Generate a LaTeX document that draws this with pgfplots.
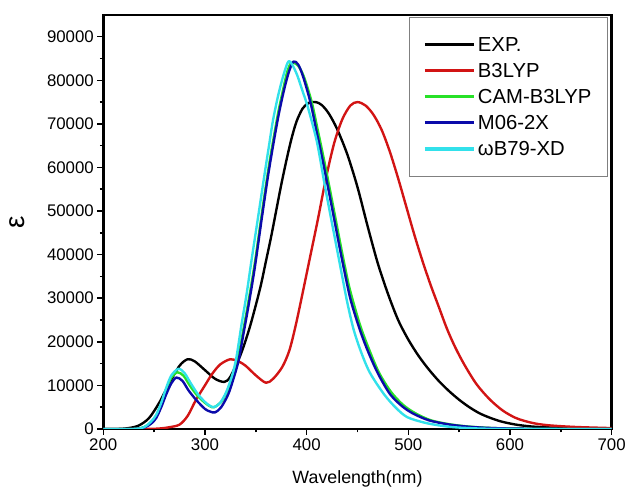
\documentclass[border=0pt]{standalone}
\usepackage{fontspec}
\setmainfont{Liberation Sans}
\usepackage{pgfplots}
\pgfplotsset{compat=1.18}
\definecolor{cred}{RGB}{210,20,20}
\definecolor{cgreen}{RGB}{40,225,40}
\definecolor{cblue}{RGB}{10,10,170}
\definecolor{ccyan}{RGB}{50,225,235}
\begin{document}
\begin{tikzpicture}
\begin{axis}[
  name=ax,
  scale only axis,
  width=512bp, height=417bp,
  xmin=200, xmax=700, ymin=0, ymax=95000,
  xtick={200,300,...,700},
  ytick={0,10000,...,90000},
  minor x tick num=1, minor y tick num=1,
  scaled ticks=false,
  /pgf/number format/assume math mode=true,
  /pgf/number format/set thousands separator={},
  tick label style={font=\fontsize{17}{19}\selectfont},
  xtick pos=bottom, ytick pos=left,
  tick align=outside,
  major tick length=6bp, minor tick length=3.5bp,
  every tick/.style={black, line width=1.5bp},
  axis line style={line width=2.5bp},
  xlabel={Wavelength(nm)},
  ylabel={ε},
  xlabel style={font=\fontsize{18}{20}\selectfont, yshift=-14bp},
  ylabel style={font=\fontsize{28}{30}\selectfont, yshift=16bp},
  legend style={at={(1,1)}, anchor=north east, xshift=-4bp, yshift=-2bp,
    draw=gray, line width=0.8bp, fill=white,
    font=\fontsize{20.5}{23}\selectfont,
    inner xsep=14bp, inner ysep=18bp, row sep=6.5bp},
  legend cell align=left,
  legend image code/.code={\draw[#1, line width=3.2bp] (7bp,0bp) -- (57bp,0bp);},
  every axis plot/.append style={line width=2.4bp, smooth, line join=round},
]
% EXP
\addplot[black] coordinates {
(200,0)(215,0)(225,200)(235,800)(245,2500)(255,6000)(265,10500)(275,14500)(283,16000)(290,15500)(300,13500)(310,11500)(319,10800)(325,12000)(335,17000)(343,22500)(349,27500)(355,33000)(360,38500)(365,44000)(370,50000)(375,56000)(380,61500)(385,66500)(390,70500)(396,73500)(402,74800)(409,75000)(415,74300)(422,72300)(430,68800)(440,63000)(450,55500)(460,46500)(470,38000)(480,31000)(490,25000)(500,20500)(510,16800)(520,13700)(530,11000)(540,8700)(550,6700)(560,5000)(570,3600)(580,2600)(590,1800)(600,1250)(610,850)(625,500)(650,250)(675,100)(700,50)};
\addlegendentry{EXP.}
% B3LYP
\addplot[cred] coordinates {
(200,0)(240,0)(255,100)(265,400)(275,1000)(283,3000)(291,6600)(300,10000)(307,12600)(315,14800)(325,16000)(333,15500)(340,14500)(350,12300)(360,10600)(367,11500)(376,14200)(383,18000)(389,23500)(395,30000)(403,39000)(411,48000)(419,57500)(427,65500)(435,71000)(443,74200)(450,75000)(458,74200)(466,72000)(474,68500)(482,63500)(490,57500)(498,51000)(506,44500)(514,38500)(522,33000)(530,28000)(538,23000)(546,18800)(555,14800)(567,10300)(580,6800)(593,4200)(605,2600)(615,1800)(626,1200)(640,800)(665,450)(700,200)};
\addlegendentry{B3LYP}
% CAM-B3LYP
\addplot[cgreen] coordinates {
(200,0)(230,0)(240,400)(247,1500)(252,3000)(257,5800)(262,9000)(267,11800)(273,13000)(279,12200)(285,10000)(292,7800)(300,6000)(305,5200)(309,5000)(316,6200)(323,9200)(328,12500)(333,16800)(338,23000)(343,29500)(349,38000)(356,49500)(362,59000)(367,66000)(372,72500)(377,78000)(381,82000)(385,84000)(391,83500)(397,81000)(405,75000)(411,68500)(416,63000)(422,56000)(427,50000)(434,41500)(441,33500)(446,29000)(453,23500)(461,18500)(471,13000)(483,8500)(495,5500)(507,3600)(522,2000)(540,1100)(557,600)(575,300)(600,100)(650,0)(700,0)};
\addlegendentry{CAM-B3LYP}
% M06-2X
\addplot[cblue] coordinates {
(200,0)(230,0)(240,300)(247,1200)(252,2500)(257,5000)(262,8000)(267,10500)(272,11800)(278,11000)(284,8800)(292,6500)(300,4600)(305,4000)(310,3800)(316,5000)(323,8000)(328,11500)(333,15600)(338,22000)(343,28500)(349,37000)(356,48500)(362,58000)(367,65000)(372,71500)(377,77000)(382,81500)(387,84300)(392,83500)(397,80500)(404,74700)(410,68000)(415,62500)(421,55500)(426,49500)(433,41000)(440,33000)(444,29000)(452,23000)(460,18000)(470,12800)(482,8000)(494,5200)(505,3500)(520,2000)(538,1100)(555,600)(573,300)(600,100)(650,0)(700,0)};
\addlegendentry{M06-2X}
% wB97-XD
\addplot[ccyan] coordinates {
(200,0)(230,0)(240,400)(247,1700)(252,3200)(257,6000)(262,9500)(267,12300)(274,13800)(280,12800)(286,10500)(293,8000)(300,6200)(305,5300)(309,5000)(315,6000)(321,8500)(327,12500)(331,16500)(336,24000)(341,31000)(346,39000)(352,48200)(358,57500)(363,65000)(367,70900)(372,76500)(377,81000)(382,84300)(386,83500)(391,81000)(396,77500)(401,74000)(410,66000)(417,57000)(421,52000)(428,43500)(435,35000)(440,29000)(446,23000)(453,18000)(462,13000)(476,8000)(488,4800)(499,2700)(515,1500)(528,900)(545,400)(570,100)(600,0)(700,0)};
\addlegendentry{ωB79-XD}
\end{axis}
\path ([shift={(-104bp,-61bp)}]ax.south west) rectangle ([shift={(13bp,15bp)}]ax.north east);
\end{tikzpicture}
\end{document}
